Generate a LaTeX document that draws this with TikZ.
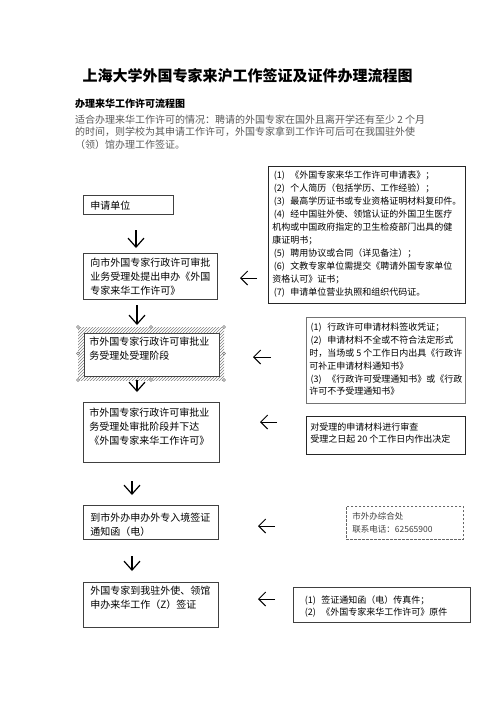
\documentclass[tikz,border=0pt]{standalone}
\usepackage{fontspec}
\setmainfont{Noto Sans CJK SC}
\usetikzlibrary{arrows.meta,patterns}
\newcommand\flowtext[3]{\parbox[t][#1][t]{#2}{#3}}
\newcommand\itm[1]{\makebox[2em][l]{\hspace{0.15em}(#1)}}

\begin{document}
\begin{tikzpicture}[
    x=1pt, y=-1pt,
    flow/.style={rectangle, draw=black!75, line width=0.8pt, anchor=north west, inner xsep=7pt, font=\fontsize{10}{14}\selectfont},
    note/.style={rectangle, draw=black!85, line width=0.9pt, anchor=north west, font=\fontsize{9}{13}\selectfont},
    down/.style={-{Straight Barb[length=9pt,width=16pt]}, line width=1.2pt},
    back/.style={-{Straight Barb[length=7pt,width=14pt]}, line width=1pt},
    handle/.style={draw=black!55, fill=white, line width=0.4pt},
]
\useasboundingbox (0,0) rectangle (496,702);

% heading
\node[font=\fontsize{15}{18}\bfseries\selectfont] (title) at (247.5,75.5) {上海大学外国专家来沪工作签证及证件办理流程图};
\node[anchor=west, inner sep=0pt, font=\fontsize{10}{12}\bfseries\selectfont] (subtitle) at (75,104) {办理来华工作许可流程图};
\node[anchor=north west, inner sep=0pt, align=left, text=black!65, font=\fontsize{10}{12.5}\selectfont] (intro) at (75,114.4)
    {适合办理来华工作许可的情况：聘请的外国专家在国外且离开学还有至少 2 个月\\的时间，则学校为其申请工作许可，外国专家拿到工作许可后可在我国驻外使\\（领）馆办理工作签证。};

% steps on the left
\node[flow, inner ysep=5.4pt] (apply) at (83,195) {\flowtext{8.2pt}{76pt}{申请单位}};
\node[flow, inner ysep=4.4pt] (submit) at (83,253) {\flowtext{37.2pt}{120pt}{向市外国专家行政许可审批\\业务受理处提出申办《外国\\专家来华工作许可》}};

\fill[pattern=north east lines, pattern color=black!50] (78,327) rectangle (224,380); % selected box
\node[flow, fill=white, inner xsep=5pt, inner ysep=3.4pt] (accept) at (84,333) {\flowtext{36.2pt}{125pt}{市外国专家行政许可审批业\\务受理处受理阶段}};
\foreach \hx/\hy in {78/327, 151/327, 224/327, 78/353.5, 224/353.5, 78/380, 151/380, 224/380}
    \filldraw[handle] (\hx,\hy) circle [radius=1.5pt];

\node[flow, inner xsep=6pt, inner ysep=5.4pt] (approve) at (83,402) {\flowtext{49.2pt}{124pt}{市外国专家行政许可审批业\\务受理处审批阶段并下达\\《外国专家来华工作许可》}};
\node[flow, inner ysep=7.4pt] (notice) at (83,505) {\flowtext{19.2pt}{121pt}{到市外办申办外专入境签证\\通知函（电）}};
\node[flow, inner ysep=3.4pt] (visa) at (83,582) {\flowtext{38.2pt}{121pt}{外国专家到我驻外使、领馆\\申办来华工作（Z）签证}};

% notes on the right
\node[note, inner xsep=4pt, inner ysep=4.9pt] (materials) at (268,166) {\flowtext{127.2pt}{189pt}{\itm{1}《外国专家来华工作许可申请表》；\\\itm{2}个人简历（包括学历、工作经验）；\\\itm{3}最高学历证书或专业资格证明材料复印件。\\\itm{4}经中国驻外使、领馆认证的外国卫生医疗\\机构或中国政府指定的卫生检疫部门出具的健\\康证明书；\\\itm{5}聘用协议或合同（详见备注）；\\\itm{6}文教专家单位需提交《聘请外国专家单位\\资格认可》证书；\\\itm{7}申请单位营业执照和组织代码证。}};
\node[note, draw=black!55, line width=0.7pt, inner xsep=3pt, inner ysep=5.9pt, font=\fontsize{9}{12.8}\selectfont] (receipt) at (306,317) {\flowtext{74.2pt}{153pt}{\itm{1}行政许可申请材料签收凭证；\\\itm{2}申请材料不全或不符合法定形式\\时，当场或 5 个工作日内出具《行政许\\可补正申请材料通知书》\\\itm{3}《行政许可受理通知书》或《行政\\许可不予受理通知书》}};
\node[note, inner xsep=4pt, inner ysep=6.9pt, font=\fontsize{9}{12}\selectfont] (review) at (306,416) {\flowtext{24.2pt}{151pt}{对受理的申请材料进行审查\\受理之日起 20 个工作日内作出决定}};
\node[note, draw=black!60, line width=0.7pt, dash pattern=on 2.5pt off 1.5pt, inner xsep=6pt, inner ysep=6.1pt, text=black!75, font=\fontsize{8.5}{13}\selectfont] (office) at (346,506) {\flowtext{20.8pt}{105pt}{市外办综合处\\联系电话：62565900}};
\node[note, draw=black!75, inner xsep=10pt, inner ysep=7.9pt, font=\fontsize{9}{12}\selectfont] (documents) at (293,587) {\flowtext{19.2pt}{157pt}{\itm{1}签证通知函（电）传真件；\\\itm{2}《外国专家来华工作许可》原件}};

% arrows down the left column
\foreach \n/\x/\ya/\yb in {1/136/230/248, 2/137/305/325, 3/137/380/392, 4/132/481/495, 5/132/556/571} {
    \coordinate (down\n) at (\x,\ya);
    \coordinate (down\n tip) at (\x,\yb);
    \draw[down] (down\n) -- (down\n tip);
}

% arrows from the notes
\foreach \n/\xa/\xb/\y in {1/257/240/278, 2/271/253/357, 3/277/260/422, 4/275/258/526, 5/275/258/599} {
    \coordinate (back\n) at (\xa,\y);
    \coordinate (back\n tip) at (\xb,\y);
    \draw[back] (back\n) -- (back\n tip);
}
\end{tikzpicture}
\end{document}
